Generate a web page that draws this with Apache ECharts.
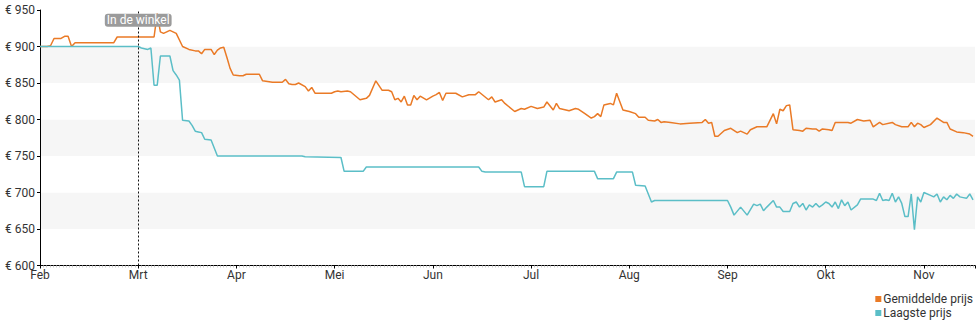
<!DOCTYPE html>
<html>
<head>
<meta charset="utf-8">
<script src="https://cdn.jsdelivr.net/npm/echarts@6/dist/echarts.min.js"></script>
<style>
  html, body { margin: 0; padding: 0; background: #fff; }
  #chart { width: 980px; height: 325px; }
</style>
</head>
<body>
<div id="chart"></div>
<script>
// Price history: average and lowest price per day (month-day, euro)
const YEAR = 2023;
const FIRST_MONTH = 2;
const monthLabels = ['Feb', 'Mrt', 'Apr', 'Mei', 'Jun', 'Jul', 'Aug', 'Sep', 'Okt', 'Nov'];
const seriesNames = ['Gemiddelde prijs', 'Laagste prijs'];
const storeLaunch = { date: '03-01', label: 'In de winkel' };

const avgPrice = [
  ['02-01',900],['02-03',900],['02-04',901],['02-05',911],['02-07',911],['02-08',914],['02-09',914],['02-10',900],
  ['02-11',905],['02-22',905],['02-23',913],['03-06',913],['03-07',945],['03-08',920],['03-09',918],['03-11',922],
  ['03-13',918],['03-15',900],['03-17',896],['03-19',894],['03-20',894],['03-21',890],['03-22',896],['03-24',896],
  ['03-25',889],['03-26',895],['03-27',898],['03-28',899],['03-29',885],['03-30',870],['03-31',861],['04-02',860],
  ['04-03',860],['04-04',862],['04-08',862],['04-09',853],['04-12',851],['04-15',851],['04-16',855],['04-17',849],
  ['04-18',848],['04-19',848],['04-20',850],['04-22',845],['04-23',839],['04-24',844],['04-25',836],['04-30',836],
  ['05-01',838],['05-02',839],['05-03',838],['05-05',839],['05-06',838],['05-09',827],['05-11',829],['05-12',833],
  ['05-14',853],['05-16',840],['05-18',840],['05-19',838],['05-20',827],['05-21',829],['05-22',824],['05-23',832],
  ['05-24',820],['05-25',820],['05-26',833],['05-27',827],['05-28',832],['05-30',827],['06-01',832],['06-02',834],
  ['06-03',837],['06-04',826],['06-05',836],['06-08',836],['06-10',831],['06-12',834],['06-14',834],['06-15',838],
  ['06-18',827],['06-19',831],['06-20',824],['06-22',827],['06-23',822],['06-26',811],['06-28',815],['06-29',814],
  ['07-01',818],['07-03',815],['07-05',817],['07-06',824],['07-08',813],['07-09',822],['07-10',815],['07-13',812],
  ['07-15',815],['07-16',814],['07-18',808],['07-20',802],['07-21',804],['07-22',808],['07-23',804],['07-24',820],
  ['07-26',822],['07-27',820],['07-28',836],['07-30',813],['08-01',811],['08-03',808],['08-04',803],['08-06',803],
  ['08-07',799],['08-09',798],['08-10',800],['08-11',796],['08-12',797],['08-14',796],['08-17',794],['08-20',795],
  ['08-24',796],['08-25',800],['08-26',795],['08-27',796],['08-28',777],['08-29',777],['08-31',785],['09-02',788],
  ['09-04',782],['09-05',784],['09-07',780],['09-08',786],['09-09',788],['09-10',790],['09-13',790],['09-15',808],
  ['09-16',794],['09-17',814],['09-18',812],['09-19',819],['09-20',820],['09-21',786],['09-23',785],['09-24',784],
  ['09-25',788],['09-27',787],['09-28',787],['09-29',784],['09-30',787],['10-02',786],['10-03',785],['10-04',796],
  ['10-08',796],['10-09',795],['10-11',800],['10-13',798],['10-15',799],['10-16',790],['10-17',793],['10-18',796],
  ['10-19',793],['10-22',796],['10-23',793],['10-25',790],['10-27',790],['10-28',796],['10-29',790],['10-30',795],
  ['10-31',793],['11-01',789],['11-03',793],['11-05',802],['11-07',796],['11-08',796],['11-09',787],['11-11',783],
  ['11-13',782],['11-15',780],['11-16',777]
];

const lowPrice = [
  ['02-01',900],['03-01',900],['03-02',898],['03-04',896],['03-05',898],['03-06',847],['03-07',847],['03-08',887],
  ['03-11',887],['03-12',867],['03-13',861],['03-14',854],['03-15',799],['03-17',798],['03-18',792],['03-19',784],
  ['03-20',783],['03-21',782],['03-22',773],['03-24',772],['03-26',750],['04-21',750],['04-22',749],['05-03',748],
  ['05-04',729],['05-10',729],['05-11',735],['06-15',735],['06-16',729],['06-17',728],['06-28',728],['06-29',708],
  ['07-05',708],['07-06',729],['07-21',729],['07-22',719],['07-27',719],['07-28',728],['08-02',728],['08-03',710],
  ['08-06',709],['08-08',687],['08-09',689],['09-01',689],['09-02',680],['09-03',669],['09-05',680],['09-07',669],
  ['09-09',684],['09-10',682],['09-11',684],['09-12',675],['09-13',680],['09-15',689],['09-16',680],['09-17',680],
  ['09-18',674],['09-20',674],['09-21',685],['09-22',687],['09-23',680],['09-24',685],['09-25',676],['09-26',683],
  ['09-27',680],['09-28',685],['09-29',680],['09-30',683],['10-01',687],['10-02',685],['10-03',680],['10-04',687],
  ['10-05',678],['10-06',690],['10-07',682],['10-08',687],['10-09',676],['10-11',683],['10-12',691],['10-16',691],
  ['10-17',689],['10-18',699],['10-19',689],['10-20',690],['10-21',689],['10-22',699],['10-23',687],['10-24',694],
  ['10-25',685],['10-26',667],['10-27',667],['10-28',698],['10-29',649],['10-30',694],['10-31',687],['11-01',700],
  ['11-03',696],['11-04',694],['11-05',698],['11-06',687],['11-07',694],['11-08',690],['11-09',696],['11-10',692],
  ['11-11',698],['11-12',694],['11-13',693],['11-14',692],['11-15',698],['11-16',690]
];

// Each month gets the same width on the x axis: position = month index + fraction of the month.
function monthPos(md) {
  const [m, d] = md.split('-').map(Number);
  const days = new Date(YEAR, m, 0).getDate();
  return (m - FIRST_MONTH) + (d - 1) / days;
}
const toPoints = arr => arr.map(([d, v]) => [monthPos(d), v]);

const COLOR_AVG = '#ea7a26';
const COLOR_LOW = '#5bbec7';
const FONT = 'Roboto, "Noto Sans", sans-serif';

const chart = echarts.init(document.getElementById('chart'), null, { renderer: 'svg' });
chart.setOption({
  animation: false,
  backgroundColor: '#fff',
  textStyle: { fontFamily: FONT },
  grid: { left: 40, right: 5, top: 10, bottom: 59.5, containLabel: false },
  legend: {
    orient: 'vertical',
    right: 7,
    bottom: 6,
    padding: 0,
    itemWidth: 6,
    itemHeight: 6,
    itemGap: 2,
    icon: 'rect',
    textStyle: { fontFamily: FONT, fontSize: 12, color: '#333', padding: [0, 0, 0, -3] },
    data: seriesNames
  },
  xAxis: {
    type: 'value',
    min: 0,
    max: 9.52,
    interval: 1,
    axisLine: { show: true, lineStyle: { color: '#000', width: 1 } },
    axisTick: { show: true, length: 3, lineStyle: { color: '#000' } },
    minorTick: { show: true, splitNumber: 30, length: 2, lineStyle: { color: '#ccc' } },
    splitLine: { show: false },
    axisLabel: {
      margin: 4,
      lineHeight: 10,
      fontFamily: FONT, fontSize: 12, color: '#333',
      showMaxLabel: false,
      formatter: v => (Number.isInteger(v) && monthLabels[v]) ? monthLabels[v] : ''
    }
  },
  yAxis: {
    type: 'value',
    min: 600,
    max: 950,
    interval: 50,
    axisLine: { show: true, lineStyle: { color: '#000', width: 1 } },
    axisTick: { show: true, length: 3, lineStyle: { color: '#000' } },
    splitLine: { show: false },
    splitArea: { show: true, areaStyle: { color: ['#ffffff', '#f6f6f6'] } },
    axisLabel: {
      margin: 5,
      lineHeight: 10,
      fontFamily: FONT, fontSize: 12, color: '#333',
      formatter: v => '€ ' + v
    }
  },
  series: [
    {
      name: seriesNames[0],
      type: 'line',
      data: toPoints(avgPrice),
      showSymbol: false,
      symbol: 'none',
      color: COLOR_AVG,
      lineStyle: { color: COLOR_AVG, width: 1.5 },
      z: 3
    },
    {
      name: seriesNames[1],
      type: 'line',
      data: toPoints(lowPrice),
      showSymbol: false,
      symbol: 'none',
      color: COLOR_LOW,
      lineStyle: { color: COLOR_LOW, width: 1.5 },
      z: 3,
      markLine: {
        silent: true,
        symbol: 'none',
        label: { show: false },
        lineStyle: { type: [2, 2], color: '#111', width: 1 },
        data: [{ xAxis: monthPos(storeLaunch.date) }]
      },
      markPoint: {
        silent: true,
        symbol: 'rect',
        symbolSize: 1,
        itemStyle: { color: 'rgba(0,0,0,0)' },
        label: {
          show: true,
          position: 'inside',
          formatter: storeLaunch.label,
          fontFamily: FONT,
          fontSize: 12,
          color: '#fff',
          backgroundColor: '#9b9b9b',
          borderRadius: 3,
          padding: [1, 2, 0, 2]
        },
        data: [{ coord: [monthPos(storeLaunch.date), 936] }]
      }
    }
  ]
});
</script>
</body>
</html>
